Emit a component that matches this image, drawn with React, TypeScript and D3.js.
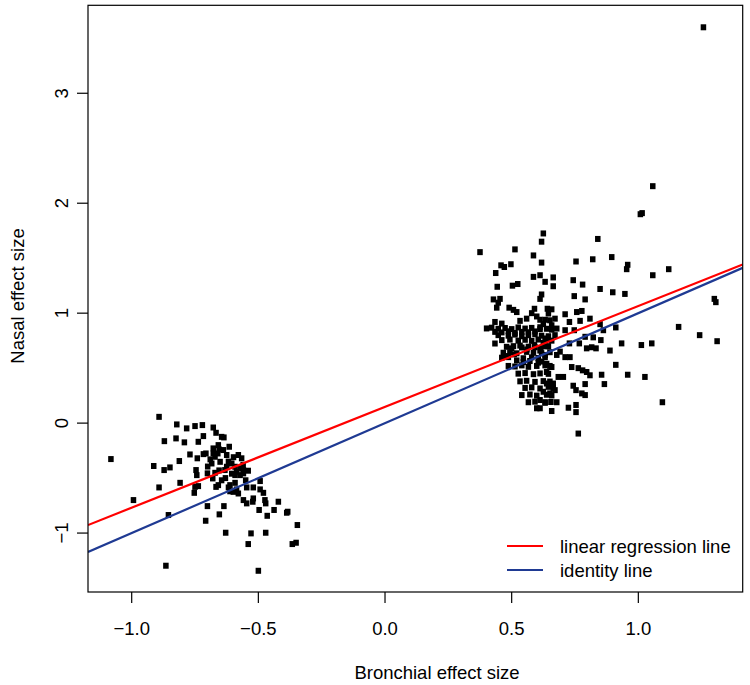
import React from "react";
import * as d3 from "d3";

// Axis limits (data units) and ticks
const xLim = [-1.1725, 1.412];
const yLim = [-1.536, 3.8];
const xTicks = [-1.0, -0.5, 0.0, 0.5, 1.0];
const yTicks = [-1, 0, 1, 2, 3];

// Regression line parameters
const regIntercept = 0.148;
const regSlope = 0.917;

// Left cluster (bronchial, nasal)
const leftX = [
  -0.892, -0.822, -0.783, -0.75, -0.721, -0.678, -0.667, -0.645, -0.636, -0.871,
  -0.825, -0.792, -0.737, -0.717, -0.678, -0.658, -0.615, -0.638, -1.082, -0.77,
  -0.741, -0.717, -0.707, -0.678, -0.66, -0.671, -0.625, -0.579, -0.566, -0.618,
  -0.812, -0.913, -0.872, -0.849, -0.684, -0.651, -0.605, -0.592, -0.625, -0.632,
  -0.572, -0.559, -0.54, -0.586, -0.572, -0.746, -0.743, -0.701, -0.671, -0.68,
  -0.592, -0.559, -0.809, -0.892, -0.75, -0.737, -0.667, -0.658, -0.645, -0.618,
  -0.612, -0.592, -0.586, -0.599, -0.579, -0.55, -0.546, -0.52, -0.493, -0.493,
  -0.48, -0.753, -0.993, -0.559, -0.546, -0.52, -0.522, -0.474, -0.471, -0.421,
  -0.701, -0.636, -0.497, -0.438, -0.388, -0.384, -0.855, -0.654, -0.465, -0.708,
  -0.346, -0.629, -0.529, -0.471, -0.54, -0.366, -0.351, -0.865, -0.5, -0.655,
  -0.69, -0.605, -0.63, -0.56, -0.612, -0.7, -0.598, -0.655,
];
const leftY = [
  0.057, -0.012, -0.048, -0.027, -0.018, -0.04, -0.088, -0.125, -0.13, -0.164,
  -0.139, -0.175, -0.17, -0.118, -0.23, -0.2, -0.215, -0.245, -0.327, -0.285,
  -0.32, -0.282, -0.276, -0.276, -0.276, -0.306, -0.29, -0.29, -0.32, -0.35,
  -0.345, -0.39, -0.427, -0.403, -0.367, -0.352, -0.367, -0.397, -0.397, -0.427,
  -0.412, -0.427, -0.433, -0.443, -0.473, -0.427, -0.473, -0.457, -0.452, -0.503,
  -0.473, -0.457, -0.543, -0.585, -0.58, -0.573, -0.58, -0.564, -0.52, -0.585,
  -0.564, -0.543, -0.603, -0.625, -0.64, -0.52, -0.585, -0.585, -0.527, -0.603,
  -0.634, -0.634, -0.7, -0.7, -0.73, -0.685, -0.715, -0.7, -0.73, -0.715,
  -0.755, -0.755, -0.79, -0.79, -0.815, -0.806, -0.836, -0.83, -0.843, -0.888,
  -0.927, -0.997, -1.003, -0.997, -1.1, -1.1, -1.088, -1.297, -1.343, -0.24,
  -0.33, -0.46, -0.5, -0.38, -0.62, -0.395, -0.31, -0.43,
];

// Right cluster (bronchial, nasal)
const rightX = [
  1.257, 1.057, 1.015, 1.008, 0.84, 0.895, 0.958, 0.954, 1.12, 1.057,
  0.849, 0.899, 0.947, 1.3, 1.306, 0.862, 0.911, 1.159, 1.242, 1.311,
  0.852, 0.934, 1.012, 1.053, 0.888, 0.911, 0.855, 0.958, 1.026, 0.866,
  1.095, 0.625, 0.618, 0.82, 0.754, 0.618, 0.612, 0.632, 0.664, 0.664,
  0.743, 0.78, 0.618, 0.747, 0.79, 0.641, 0.658, 0.645, 0.711, 0.757,
  0.777, 0.809, 0.728, 0.77, 0.849, 0.711, 0.747, 0.671, 0.638, 0.79,
  0.822, 0.767, 0.728, 0.816, 0.833, 0.796, 0.691, 0.678, 0.711, 0.73,
  0.618, 0.638, 0.651, 0.638, 0.737, 0.763, 0.78, 0.796, 0.809, 0.684,
  0.704, 0.638, 0.664, 0.671, 0.651, 0.678, 0.79, 0.743, 0.754, 0.777,
  0.79, 0.625, 0.612, 0.632, 0.724, 0.754, 0.754, 0.658, 0.612, 0.763,
  0.612, 0.632, 0.651, 0.671, 0.625, 0.658, 0.612, 0.678, 0.625, 0.645,
  0.612, 0.632, 0.375, 0.513, 0.586, 0.458, 0.471, 0.497, 0.437, 0.586,
  0.443, 0.503, 0.524, 0.612, 0.428, 0.454, 0.447, 0.441, 0.49, 0.507,
  0.52, 0.59, 0.579, 0.599, 0.559, 0.434, 0.461, 0.533,
  0.401, 0.421, 0.447, 0.474, 0.5, 0.526, 0.553, 0.579, 0.612, 0.638, 0.658,
  0.434, 0.461, 0.487, 0.513, 0.54, 0.566, 0.592,
  0.447, 0.487, 0.513, 0.54, 0.566, 0.592, 0.618, 0.645,
  0.461, 0.493, 0.526, 0.553, 0.579, 0.605, 0.632, 0.658,
  0.434, 0.48, 0.507, 0.54, 0.566, 0.592, 0.632,
  0.467, 0.493, 0.52, 0.559, 0.586, 0.618, 0.651,
  0.461, 0.487, 0.546, 0.579, 0.605, 0.632,
  0.487, 0.513, 0.54, 0.566, 0.599, 0.632, 0.658,
  0.526, 0.553, 0.586, 0.612, 0.645,
  0.533, 0.559, 0.592, 0.625, 0.651,
  0.553, 0.579, 0.612, 0.645, 0.664,
  0.54, 0.572, 0.599, 0.638, 0.658,
  0.566, 0.592, 0.632, 0.655, 0.599,
  0.52, 0.546, 0.572, 0.605, 0.5, 0.533, 0.56, 0.59, 0.615, 0.48, 0.51,
];
const rightY = [
  3.6, 2.155, 1.91, 1.9, 1.675, 1.51, 1.44, 1.4, 1.4, 1.345,
  1.22, 1.19, 1.175, 1.13, 1.1, 0.845, 0.87, 0.875, 0.8, 0.745,
  0.755, 0.725, 0.71, 0.725, 0.66, 0.53, 0.44, 0.44, 0.42, 0.355,
  0.19, 1.725, 1.65, 1.49, 1.47, 1.46, 1.345, 1.285, 1.325, 1.245,
  1.3, 1.26, 1.17, 1.155, 1.125, 1.04, 1.035, 0.997, 0.99, 1.01,
  1.02, 0.95, 0.92, 0.93, 0.9, 0.845, 0.845, 0.8, 0.77, 0.785,
  0.78, 0.725, 0.725, 0.69, 0.68, 0.68, 0.65, 0.62, 0.6, 0.6,
  0.56, 0.54, 0.52, 0.465, 0.51, 0.5, 0.48, 0.465, 0.435, 0.42,
  0.42, 0.36, 0.36, 0.3, 0.27, 0.19, 0.355, 0.34, 0.3, 0.27,
  0.255, 0.285, 0.21, 0.19, 0.14, 0.165, 0.1, 0.11, 0.135, -0.095,
  0.94, 0.94, 0.935, 0.95, 0.9, 0.89, 0.855, 0.86, 0.73, 0.7,
  0.66, 0.62, 1.555, 1.58, 1.525, 1.435, 1.42, 1.445, 1.365, 1.33,
  1.24, 1.25, 1.265, 1.13, 1.125, 1.13, 1.095, 1.05, 1.05, 1.03,
  1.01, 1.04, 1.0, 0.97, 0.95, 0.92, 0.905, 0.93,
  0.861, 0.868, 0.858, 0.865, 0.855, 0.87, 0.86, 0.866, 0.872, 0.858, 0.85,
  0.83, 0.825, 0.835, 0.82, 0.83, 0.826, 0.834,
  0.8, 0.795, 0.805, 0.79, 0.8, 0.808, 0.795, 0.79,
  0.755, 0.76, 0.75, 0.758, 0.748, 0.76, 0.752, 0.75,
  0.724, 0.694, 0.7, 0.688, 0.695, 0.69, 0.698,
  0.64, 0.645, 0.635, 0.648, 0.64, 0.636, 0.645,
  0.595, 0.6, 0.59, 0.598, 0.592, 0.6,
  0.52, 0.515, 0.525, 0.512, 0.52, 0.525, 0.51,
  0.45, 0.455, 0.445, 0.452, 0.448,
  0.38, 0.385, 0.375, 0.382, 0.378,
  0.32, 0.325, 0.315, 0.33, 0.318,
  0.255, 0.26, 0.25, 0.258, 0.252,
  0.19, 0.195, 0.185, 0.192, 0.135,
  0.57, 0.555, 0.565, 0.55, 0.68, 0.705, 0.67, 0.71, 0.675, 0.61, 0.625,
];

const W = 750;
const H = 685;
const M = { left: 88, right: 742.7, top: 5.3, bottom: 592 };
const FONT = "'Liberation Sans', Arial, Helvetica, sans-serif";

export default function App() {
  const x = d3.scaleLinear().domain(xLim).range([M.left, M.right]);
  const y = d3.scaleLinear().domain(yLim).range([M.bottom, M.top]);

  const pts: [number, number][] = [];
  leftX.forEach((v, i) => pts.push([v, leftY[i]]));
  rightX.forEach((v, i) => pts.push([v, rightY[i]]));

  const lineGen = d3
    .line<[number, number]>()
    .x((d) => x(d[0]))
    .y((d) => y(d[1]));
  const reg: [number, number][] = xLim.map((v) => [v, regIntercept + regSlope * v]);
  const ident: [number, number][] = xLim.map((v) => [v, v]);

  const sq = 5.5;
  const sqh = 6;
  const fs = 18.5;

  return (
    <div style={{ position: "absolute", left: 0, top: 0 }}>
      <svg width={W} height={H} style={{ display: "block", background: "#fff" }}>
        <defs>
          <clipPath id="plotclip">
            <rect x={M.left} y={M.top} width={M.right - M.left} height={M.bottom - M.top} />
          </clipPath>
        </defs>
        <rect x={0} y={0} width={W} height={H} fill="#fff" />
        <g clipPath="url(#plotclip)">
          {pts.map((p, i) => (
            <rect
              key={i}
              x={x(p[0]) - sq / 2}
              y={y(p[1]) - sqh / 2}
              width={sq}
              height={sqh}
              fill="#000"
            />
          ))}
          <path d={lineGen(reg) || ""} stroke="#ff0000" strokeWidth={2.2} fill="none" />
          <path d={lineGen(ident) || ""} stroke="#1f3a93" strokeWidth={2.2} fill="none" />
        </g>
        <rect
          x={M.left}
          y={M.top}
          width={M.right - M.left}
          height={M.bottom - M.top}
          fill="none"
          stroke="#000"
          strokeWidth={1.2}
        />
        {/* x axis ticks */}
        {xTicks.map((t) => (
          <g key={"x" + t}>
            <line x1={x(t)} x2={x(t)} y1={M.bottom} y2={M.bottom + 11} stroke="#000" strokeWidth={1.2} />
            <text
              x={x(t)}
              y={635}
              textAnchor="middle"
              fontFamily={FONT}
              fontSize={fs}
              fill="#000"
            >
              {d3.format(".1f")(t).replace("-", "\u2212")}
            </text>
          </g>
        ))}
        {/* y axis ticks */}
        {yTicks.map((t) => (
          <g key={"y" + t}>
            <line x1={M.left - 11} x2={M.left} y1={y(t)} y2={y(t)} stroke="#000" strokeWidth={1.2} />
            <text
              transform={`translate(68,${y(t)}) rotate(-90)`}
              textAnchor="middle"
              fontFamily={FONT}
              fontSize={fs}
              fill="#000"
            >
              {String(t).replace("-", "\u2212")}
            </text>
          </g>
        ))}
        <text x={437} y={679} textAnchor="middle" fontFamily={FONT} fontSize={fs} fill="#000">
          Bronchial effect size
        </text>
        <text
          transform={`translate(24,296) rotate(-90)`}
          textAnchor="middle"
          fontFamily={FONT}
          fontSize={fs}
          fill="#000"
        >
          Nasal effect size
        </text>
        {/* legend */}
        <line x1={507} x2={543} y1={546} y2={546} stroke="#ff0000" strokeWidth={2.2} />
        <line x1={507} x2={543} y1={570} y2={570} stroke="#1f3a93" strokeWidth={2.2} />
        <text x={560} y={552.5} fontFamily={FONT} fontSize={fs} fill="#000">
          linear regression line
        </text>
        <text x={560} y={576.5} fontFamily={FONT} fontSize={fs} fill="#000">
          identity line
        </text>
      </svg>
    </div>
  );
}
